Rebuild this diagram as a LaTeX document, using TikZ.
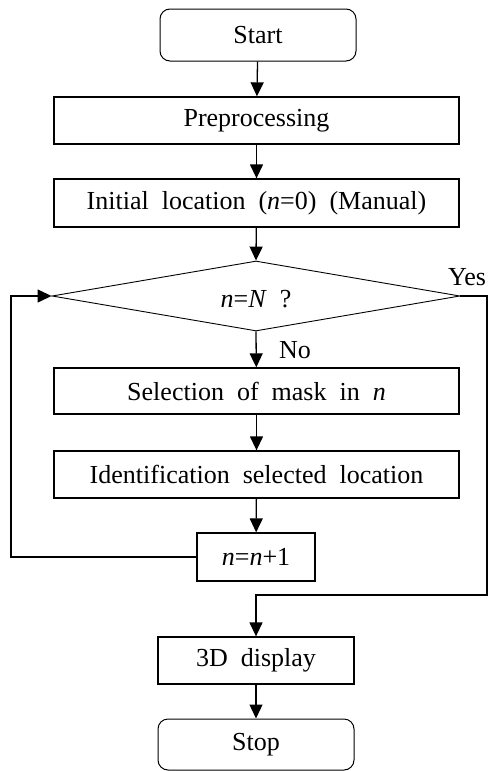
\documentclass[tikz,border=0pt]{standalone}
\usepackage{fontspec}
\setmainfont{Liberation Serif}
\usetikzlibrary{shapes.geometric,arrows.meta}
\newcommand\widewords{\spaceskip=0.5em\relax}
\begin{document}
\begin{tikzpicture}[x=1pt,y=-1pt,
  every node/.style={font=\fontsize{26}{29}\selectfont\widewords},
  box/.style={draw, line width=1.3pt, inner sep=0pt, minimum width=405pt, minimum height=47pt},
  term/.style={box, rounded corners=10pt, minimum width=196pt, minimum height=52pt, line width=1pt},
  dec/.style={draw, diamond, line width=0.9pt, inner sep=0pt, minimum width=408pt, minimum height=70pt},
  lbl/.style={anchor=west, inner sep=0pt},
  arr/.style={line width=1.3pt, -{Triangle[width=13pt,length=14pt]}},
  ln/.style={line width=1.3pt}]
\useasboundingbox (0,0) rectangle (489,771);
\node[term] (start) at (258,35) {Start};
\node[box] (pre) at (256.5,120.5) {Preprocessing};
\node[box, minimum height=48pt] (init) at (256.5,203) {Initial location (\textit{n}=0) (Manual)};
\node[dec] (dia) at (256,296) {};
\node (diat) at (256,299) {\textit{n}=\textit{N} ?};
\node[box, minimum height=46pt] (sel) at (256.5,391) {Selection of mask in \textit{n}};
\node[box] (ident) at (256.5,474.5) {Identification selected location};
\node[box, minimum width=118pt, minimum height=48pt] (inc) at (256,557) {\textit{n}=\textit{n}+1};
\node[box, minimum width=196pt] (disp) at (256,660.5) {3D display};
\node[term, minimum height=51pt] (stop) at (256,744.5) {Stop};
\node[lbl] (yes) at (448,277) {Yes};
\node[lbl] (no) at (279,350) {No};
\coordinate (lc) at (11,557);
\coordinate (rc) at (487,296);
\coordinate (rb) at (487,595);
\draw[arr] (start) -- (pre);
\draw[arr] (pre) -- (init);
\draw[arr] (init) -- (dia.north);
\draw[arr] (dia.south) -- (sel);
\draw[arr] (sel) -- (ident);
\draw[arr] (ident) -- (inc);
\draw[arr] (disp) -- (stop);
\draw[arr] (inc.west) -- (lc) |- (dia.west);
\draw[arr] (dia.east) -- (rc) -- (rb) -| (disp.north);
\end{tikzpicture}
\end{document}
